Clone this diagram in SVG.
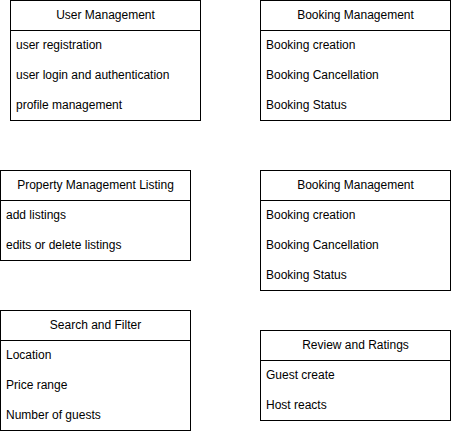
<svg xmlns="http://www.w3.org/2000/svg" width="451" height="431" viewBox="0 0 451 431">
<style>
.box{fill:#ffffff;stroke:#000000;stroke-width:1}
.sep{stroke:#000000;stroke-width:1}
text{font-family:"Liberation Sans",Arial,Helvetica,sans-serif;font-size:12px;fill:#000000}
.h{text-anchor:middle}
</style>
<rect width="451" height="431" fill="#ffffff"/>
<g id="connectors"></g>
<g id="user-management">
<rect class="box" x="10.5" y="0.5" width="190" height="120"/>
<line class="sep" x1="10.5" y1="30.5" x2="200.5" y2="30.5"/>
<text class="h" x="105.5" y="19">User Management</text>
<text x="16" y="49">user registration</text>
<text x="16" y="79">user login and authentication</text>
<text x="16" y="109">profile management</text>
</g>
<g id="booking-management-1">
<rect class="box" x="260.5" y="0.5" width="190" height="120"/>
<line class="sep" x1="260.5" y1="30.5" x2="450.5" y2="30.5"/>
<text class="h" x="355.5" y="19">Booking Management</text>
<text x="266" y="49">Booking creation</text>
<text x="266" y="79">Booking Cancellation</text>
<text x="266" y="109">Booking Status</text>
</g>
<g id="property-management">
<rect class="box" x="0.5" y="170.5" width="190" height="90"/>
<line class="sep" x1="0.5" y1="200.5" x2="190.5" y2="200.5"/>
<text class="h" x="95.5" y="189">Property Management Listing</text>
<text x="6" y="219">add listings</text>
<text x="6" y="249">edits or delete listings</text>
</g>
<g id="booking-management-2">
<rect class="box" x="260.5" y="170.5" width="190" height="120"/>
<line class="sep" x1="260.5" y1="200.5" x2="450.5" y2="200.5"/>
<text class="h" x="355.5" y="189">Booking Management</text>
<text x="266" y="219">Booking creation</text>
<text x="266" y="249">Booking Cancellation</text>
<text x="266" y="279">Booking Status</text>
</g>
<g id="search-filter">
<rect class="box" x="0.5" y="310.5" width="190" height="120"/>
<line class="sep" x1="0.5" y1="340.5" x2="190.5" y2="340.5"/>
<text class="h" x="95.5" y="329">Search and Filter</text>
<text x="6" y="359">Location</text>
<text x="6" y="389">Price range</text>
<text x="6" y="419">Number of guests</text>
</g>
<g id="review-ratings">
<rect class="box" x="260.5" y="330.5" width="190" height="90"/>
<line class="sep" x1="260.5" y1="360.5" x2="450.5" y2="360.5"/>
<text class="h" x="355.5" y="349">Review and Ratings</text>
<text x="266" y="379">Guest create</text>
<text x="266" y="409">Host reacts</text>
</g>
</svg>
